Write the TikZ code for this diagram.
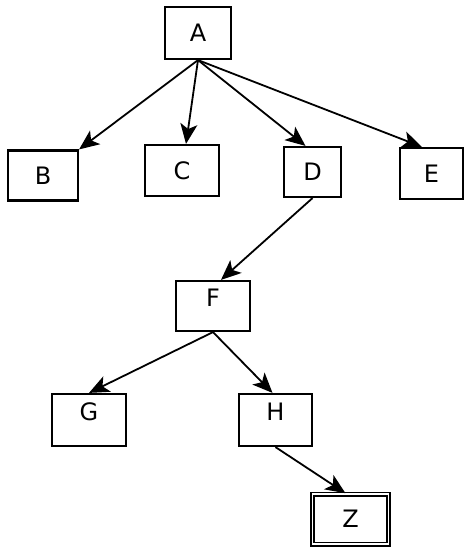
\documentclass[tikz,border=0pt]{standalone}
\usepackage{fontspec}
\setmainfont{DejaVu Sans}
\usetikzlibrary{arrows.meta}
\begin{document}
\begin{tikzpicture}[x=1pt,y=-1pt,
  box/.style={draw=black, line width=2.2pt, inner sep=0pt, font=\fontsize{24}{24}\selectfont},
  toptext/.style={text depth=17pt},
  arr/.style={draw=black, line width=1.8pt, -{Stealth[length=20pt,width=17pt,inset=5pt]}}]
\useasboundingbox[fill=white] (0,0) rectangle (464,548);
\node[box, minimum width=66pt, minimum height=52pt] (A) at (198,33) {A};
\node[box, minimum width=70pt, minimum height=50pt] (B) at (43,175.5) {B};
\node[box, minimum width=74pt, minimum height=51pt] (C) at (182,170.5) {C};
\node[box, minimum width=57pt, minimum height=50pt] (D) at (312.5,172) {D};
\node[box, minimum width=63pt, minimum height=51pt] (E) at (431.5,173.5) {E};
\node[box, toptext, minimum width=74pt, minimum height=50pt] (F) at (213,306) {F};
\node[box, toptext, minimum width=74pt, minimum height=52pt] (G) at (89,420) {G};
\node[box, toptext, minimum width=73pt, minimum height=52pt] (H) at (275.5,420) {H};
\node[box, line width=1.6pt, double, double distance=1.8pt, minimum width=76pt, minimum height=50pt] (Z) at (350.5,519) {Z};
\draw[arr] (A.south) -- (B.north east);
\draw[arr] (A.south) -- ([xshift=4pt]C.north);
\draw[arr] (A.south) -- ([xshift=-7pt]D.north);
\draw[arr] (A.south) -- ([xshift=23pt]E.north west);
\draw[arr] (D.south) -- ([xshift=8pt]F.north);
\draw[arr] (F.south) -- (G.north);
\draw[arr] (F.south) -- ([xshift=-3pt]H.north);
\draw[arr] (H.south) -- ([xshift=-5pt]Z.north);
\end{tikzpicture}
\end{document}
